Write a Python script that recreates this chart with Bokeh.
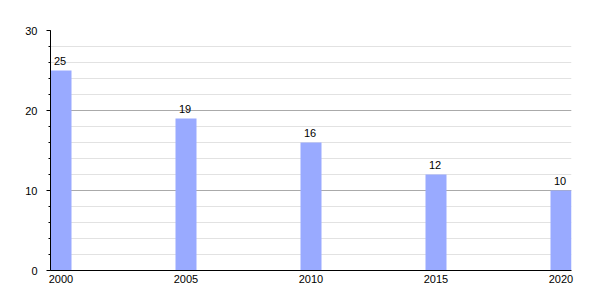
from bokeh.plotting import figure
from bokeh.models import Range1d, SingleIntervalTicker, FixedTicker, ColumnDataSource
from bokeh.embed import file_html
from bokeh.resources import INLINE

years = [2000, 2005, 2010, 2015, 2020]
values = [25, 19, 16, 12, 10]
y_ticks = [0, 10, 20, 30]

bar_w = 0.84
src = ColumnDataSource(dict(x=years, top=values, label=[str(v) for v in values]))

p = figure(width=600, height=300, output_backend="svg", toolbar_location=None,
           x_range=Range1d(years[0] - bar_w / 2, years[-1] + bar_w / 2),
           y_range=Range1d(0, 30),
           min_border_left=50, min_border_right=29, min_border_top=30, min_border_bottom=30)
p.outline_line_color = None
p.background_fill_color = "white"
p.border_fill_color = "white"

p.vbar(x="x", top="top", width=bar_w, bottom=0, source=src,
       fill_color="#99aaff", line_color=None)
p.text(x="x", y="top", text="label", source=src, text_align="center",
       text_baseline="alphabetic", y_offset=-10, x_offset=-1, text_font_size="11px",
       text_color="black", text_font={"value": "Liberation Sans"})

p.yaxis.ticker = SingleIntervalTicker(interval=10, num_minor_ticks=5)
p.ygrid.ticker = p.yaxis.ticker
p.ygrid.grid_line_color = "#aaaaaa"
p.ygrid.minor_grid_line_color = "#e2e2e2"
p.xgrid.grid_line_color = None

p.xaxis.ticker = FixedTicker(ticks=years)
for ax in (p.xaxis, p.yaxis):
    ax.axis_line_color = "black"
    ax.major_label_text_font = "Liberation Sans"
    ax.major_label_text_font_size = "11px"
    ax.major_label_text_color = "black"

p.xaxis.major_tick_line_color = None
p.xaxis.minor_tick_line_color = None
p.xaxis.major_tick_out = 0
p.xaxis.major_tick_in = 0
p.xaxis.minor_tick_out = 0
p.xaxis.major_label_standoff = 4

p.yaxis.major_tick_in = 0
p.yaxis.major_tick_out = 4
p.yaxis.minor_tick_in = 0
p.yaxis.minor_tick_out = 2
p.yaxis.major_tick_line_color = "black"
p.yaxis.minor_tick_line_color = "black"
p.yaxis.major_label_standoff = 9

open("out.html", "w").write(file_html(p, INLINE))
